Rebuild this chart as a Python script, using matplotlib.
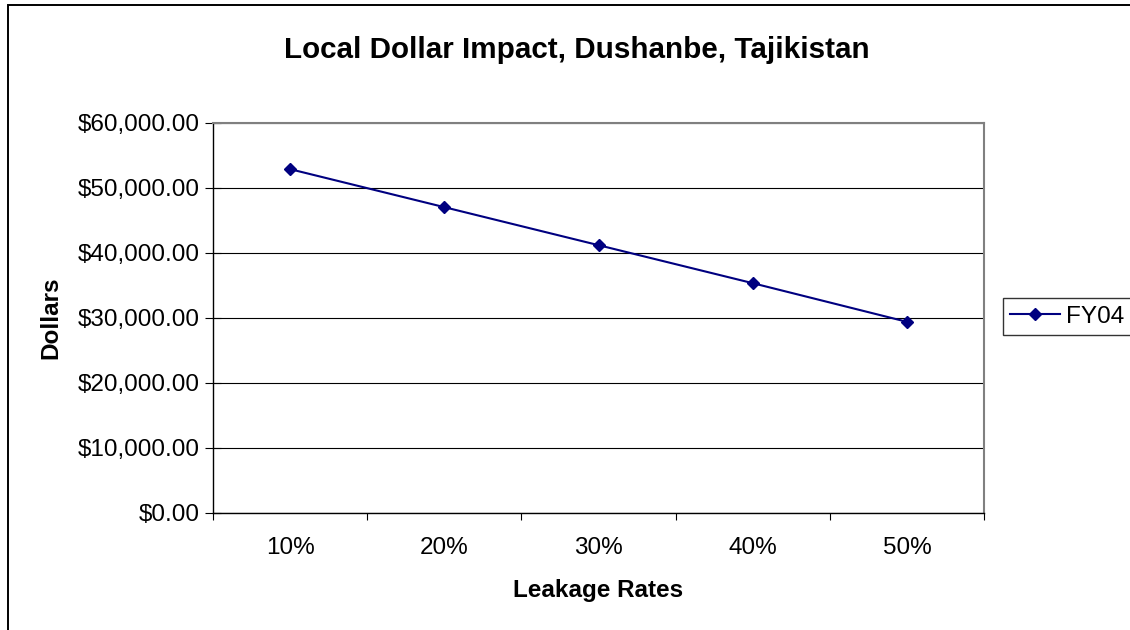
import matplotlib
matplotlib.use("Agg")
import matplotlib.pyplot as plt
from matplotlib.patches import Rectangle
from matplotlib.ticker import FuncFormatter, FixedLocator

plt.rcParams['font.family'] = ['Liberation Sans', 'DejaVu Sans']

# data
leakage_rates = ['10%', '20%', '30%', '40%', '50%']
fy04_values = [52850, 47000, 41150, 35300, 29350]
y_ticks = [0, 10000, 20000, 30000, 40000, 50000, 60000]

NAVY = '#000080'
W, H = 1130, 630

fig = plt.figure(figsize=(W / 100, H / 100), dpi=100)

# outer chart border (Excel style, right/bottom run off the picture)
fig.patches.append(Rectangle((8 / W, -0.05), 1.2, 1 - 5 / H + 0.05,
                             transform=fig.transFigure, fill=False,
                             edgecolor='black', linewidth=1.4))

# plot area: x 213..984, y 122.7..512.5 (pixels)
ax = fig.add_axes([213 / W, 1 - 512.5 / H, 771 / W, 389.8 / H])

x = list(range(1, len(leakage_rates) + 1))
ax.plot(x, fy04_values, color=NAVY, linewidth=1.5, marker='D',
        markersize=6.5, markerfacecolor=NAVY, markeredgecolor=NAVY,
        label='FY04', zorder=3)

ax.set_xlim(0.5, len(leakage_rates) + 0.5)
ax.set_ylim(0, 60000)

# y axis
ax.set_yticks(y_ticks)
ax.yaxis.set_major_formatter(FuncFormatter(lambda v, p: f"${v:,.2f}"))
ax.yaxis.grid(True, color='black', linewidth=0.8)
ax.set_axisbelow(True)
ax.tick_params(axis='y', direction='inout', length=11, width=0.8,
               labelsize=17.5, pad=4)

# x axis: labels at centres, tick marks at category edges
ax.set_xticks(x)
ax.set_xticklabels(leakage_rates)
ax.xaxis.set_minor_locator(FixedLocator([i + 0.5 for i in range(0, len(x) + 1)]))
ax.tick_params(axis='x', which='major', length=0, labelsize=17.5, pad=18)
ax.tick_params(axis='x', which='minor', direction='out', length=5, width=0.8)

for s in ['left', 'bottom']:
    ax.spines[s].set_color('black')
    ax.spines[s].set_linewidth(1.0)
for s in ['right', 'top']:
    ax.spines[s].set_color('#808080')
    ax.spines[s].set_linewidth(1.5)

ax.set_xlabel('Leakage Rates', fontsize=17.5, fontweight='bold')
ax.xaxis.label.set_va('baseline')
ax.xaxis.set_label_coords(0.5, -84.5 / 389.8)

ax.set_ylabel('Dollars', fontsize=17.5, fontweight='bold')
ax.yaxis.label.set_va('baseline')
ax.yaxis.set_label_coords((57 - 213) / 771, 0.5)

fig.text(577 / W, 1 - 58.3 / H, 'Local Dollar Impact, Dushanbe, Tajikistan',
         ha='center', va='baseline', fontsize=21.3, fontweight='bold')

# legend box runs off the right edge, as in the reference
leg = ax.legend(loc='center left',
                bbox_to_anchor=(1003 / W, 1 - 336 / H, 150 / W, 39 / H),
                bbox_transform=fig.transFigure, mode='expand',
                frameon=True, fancybox=False,
                edgecolor='black', fontsize=17.5, handlelength=2.06,
                handletextpad=0.25, borderpad=0.3, borderaxespad=0)
leg.get_frame().set_linewidth(1.0)

fig.savefig('out.png', dpi=100)
